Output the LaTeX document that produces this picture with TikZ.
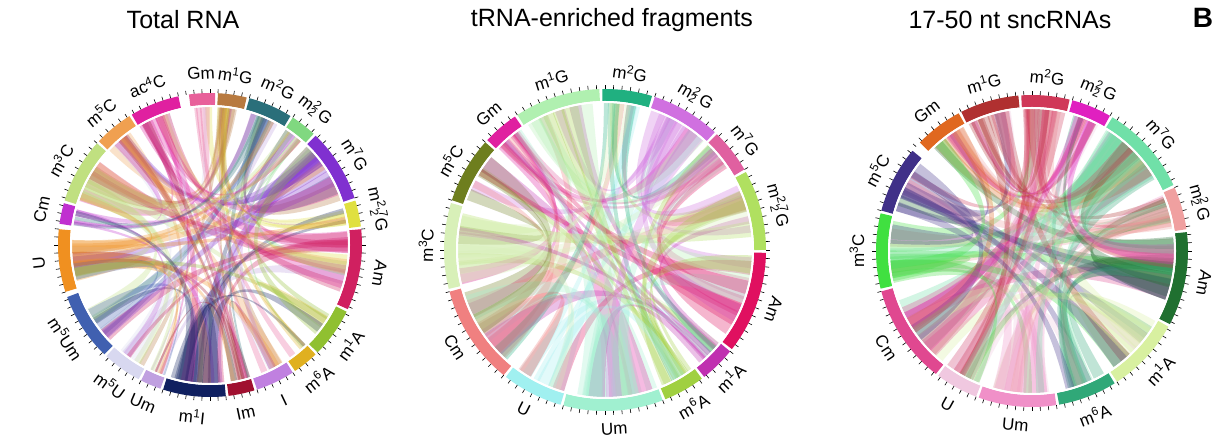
\documentclass[tikz,border=0pt]{standalone}
\usepackage{fontspec}
\setmainfont{Liberation Sans}
\usetikzlibrary{calc}
\definecolor{A1}{HTML}{E8609A}\definecolor{A2}{HTML}{B87A40}\definecolor{A3}{HTML}{2A6F7A}
\definecolor{A4}{HTML}{80D880}\definecolor{A5}{HTML}{8030D0}\definecolor{A6}{HTML}{E0E040}
\definecolor{A7}{HTML}{D02060}\definecolor{A8}{HTML}{90C030}\definecolor{A9}{HTML}{E0B020}
\definecolor{A10}{HTML}{C080E0}\definecolor{A11}{HTML}{A01030}\definecolor{A12}{HTML}{102060}
\definecolor{A13}{HTML}{C0A0E0}\definecolor{A14}{HTML}{D8D8F0}\definecolor{A15}{HTML}{4060B0}
\definecolor{A16}{HTML}{F09020}\definecolor{A17}{HTML}{C030D0}\definecolor{A18}{HTML}{C0E080}
\definecolor{A19}{HTML}{F0A050}\definecolor{A20}{HTML}{E020A0}
\definecolor{B1}{HTML}{E020A0}\definecolor{B2}{HTML}{B0F0B0}\definecolor{B3}{HTML}{20B080}
\definecolor{B4}{HTML}{D070E0}\definecolor{B5}{HTML}{E060A0}\definecolor{B6}{HTML}{B0E060}
\definecolor{B7}{HTML}{E01060}\definecolor{B8}{HTML}{C030B0}\definecolor{B9}{HTML}{A0D040}
\definecolor{B10}{HTML}{A0F0D0}\definecolor{B11}{HTML}{A0F0F0}\definecolor{B12}{HTML}{F08080}
\definecolor{B13}{HTML}{D8F0B8}\definecolor{B14}{HTML}{6E7E1E}
\definecolor{C1}{HTML}{E06820}\definecolor{C2}{HTML}{B03030}\definecolor{C3}{HTML}{D03858}
\definecolor{C4}{HTML}{E020C0}\definecolor{C5}{HTML}{70E0A8}\definecolor{C6}{HTML}{F0A0A0}
\definecolor{C7}{HTML}{207030}\definecolor{C8}{HTML}{D8F0A0}\definecolor{C9}{HTML}{30A878}
\definecolor{C10}{HTML}{F090C8}\definecolor{C11}{HTML}{F0C8E0}\definecolor{C12}{HTML}{E04890}
\definecolor{C13}{HTML}{40E040}\definecolor{C14}{HTML}{403088}
\newcommand\mtwotwo{m\rlap{\textsuperscript{2}}\textsubscript{2}\,G}
\newcommand\mtwoseven{m\textsuperscript{2,7}\llap{\textsubscript{2}\,}G}
\newcommand\segdef[4]{\expandafter\xdef\csname S#1#2\endcsname{#3}\expandafter\xdef\csname E#1#2\endcsname{#4}}
\newcommand\ringseg[8]{%
  \segdef{#1}{#2}{#5}{#6}%
  \draw[line width=12pt,#1#2] ($(#3)+(#5:#4)$) arc[start angle=#5,end angle=#6,radius=#4];
  \pgfmathsetmacro\segmid{(#5+#6)/2}%
  \pgfmathsetmacro\segrot{(sin(\segmid)<-0.35)?(\segmid+90):(\segmid-90)}%
  \node[lab,rotate=\segrot] (L#1#2) at ($(#3)+(\segmid:#4+#8)$) {#7};
}
\newcommand\chords[5]{% prefix, center, inner radius, nsegs, count
  \foreach \n in {1,...,#5}{
    \pgfmathrandominteger{\ii}{1}{#4}
    \pgfmathrandominteger{\jj}{1}{#4}
    \pgfmathsetmacro\sa{\csname S#1\ii\endcsname}
    \pgfmathsetmacro\ea{\csname E#1\ii\endcsname}
    \pgfmathsetmacro\sb{\csname S#1\jj\endcsname}
    \pgfmathsetmacro\eb{\csname E#1\jj\endcsname}
    \pgfmathsetmacro\aone{\sa+(\ea-\sa)*rnd*0.7}
    \pgfmathsetmacro\atwo{\aone+(\ea-\sa)*(0.1+0.2*rnd)}
    \pgfmathsetmacro\bone{\sb+(\eb-\sb)*rnd*0.7}
    \pgfmathsetmacro\btwo{\bone+(\eb-\sb)*(0.1+0.2*rnd)}
    \fill[#1\ii,opacity=0.3] ($(#2)+(\aone:#3)$) arc[start angle=\aone,end angle=\atwo,radius=#3]
      .. controls ($(#2)+(\atwo:#3*0.25)$) and ($(#2)+(\bone:#3*0.25)$) .. ($(#2)+(\bone:#3)$) arc[start angle=\bone,end angle=\btwo,radius=#3]
      .. controls ($(#2)+(\btwo:#3*0.25)$) and ($(#2)+(\aone:#3*0.25)$) .. cycle;
  }
}
\newcommand\ticks[2]{\foreach \t in {0,3,...,357}{\draw[line width=0.6pt] ($(#1)+(\t:#2+6)$) -- ($(#1)+(\t:#2+10)$);}}
\begin{document}
\begin{tikzpicture}[x=1pt,y=1pt,lab/.style={font=\fontsize{17}{19}\selectfont,inner sep=0pt},
  ttl/.style={font=\fontsize{25}{28}\selectfont}]
\useasboundingbox (0,0) rectangle (1217,441);
\fill[white] (0,0) rectangle (1217,441);
\pgfmathsetseed{11}
\node[ttl] (t1) at (183,421) {Total RNA};
\node[ttl] (t2) at (612,421) {tRNA-enriched fragments};
\node[ttl] (t3) at (1010,421) {17-50 nt sncRNAs};
\node[font=\fontsize{28}{30}\selectfont\bfseries] (tB) at (1203,423) {B};
% circle A
\coordinate (cA) at (210,196);
\foreach \s/\e/\l [count=\i] in {98/88/Gm,87/76/m\textsuperscript{1}G,75/58/m\textsuperscript{2}G,57/47/\mtwotwo,46/18/m\textsuperscript{7}G,17/7/\mtwoseven,6/-25/Am,-26/-45/m\textsuperscript{1}A,-46/-56/m\textsuperscript{6}A,-57/-72/I,-73/-83/Im,-84/-108/m\textsuperscript{1}I,-109/-117/Um,-118/-133/m\textsuperscript{5}U,-134/-160/m\textsuperscript{5}Um,-162/-186/U,-188/-196/Cm,-197/-222/m\textsuperscript{3}C,-223/-238/m\textsuperscript{5}C,-239/-258/ac\textsuperscript{4}C}
  {\ringseg{A}{\i}{cA}{146}{\s}{\e}{\l}{26}}
\chords{A}{cA}{138}{20}{110}
\draw[white,line width=2pt] (cA) circle[radius=139];
\ticks{cA}{146}
% circle B
\coordinate (cB) at (605,191);
\foreach \s/\e/\l [count=\i] in {137/124/Gm,123/92/m\textsuperscript{1}G,91/73/m\textsuperscript{2}G,72/47/\mtwotwo,46/30/m\textsuperscript{7}G,29/0/\mtwoseven,-1/-38/Am,-39/-52/m\textsuperscript{1}A,-53/-68/m\textsuperscript{6}A,-69/-105/Um,-106/-128/U,-129/-165/Cm,-166/-197/m\textsuperscript{3}C,-198/-222/m\textsuperscript{5}C}
  {\ringseg{B}{\i}{cB}{155}{\s}{\e}{\l}{24}}
\chords{B}{cB}{147}{14}{90}
\draw[white,line width=2pt] (cB) circle[radius=148];
\ticks{cB}{155}
% circle C
\coordinate (cC) at (1032,190);
\foreach \s/\e/\l [count=\i] in {136/118/Gm,117/95/m\textsuperscript{1}G,94/76/m\textsuperscript{2}G,75/60/\mtwotwo,59/25/m\textsuperscript{7}G,24/8/\mtwotwo,7/-28/Am,-29/-57/m\textsuperscript{1}A,-58/-80/m\textsuperscript{6}A,-81/-110/Um,-111/-127/U,-128/-165/Cm,-166/-194/m\textsuperscript{3}C,-195/-220/m\textsuperscript{5}C}
  {\ringseg{C}{\i}{cC}{150}{\s}{\e}{\l}{25}}
\chords{C}{cC}{142}{14}{110}
\draw[white,line width=2pt] (cC) circle[radius=143];
\ticks{cC}{150}
\end{tikzpicture}
\end{document}
